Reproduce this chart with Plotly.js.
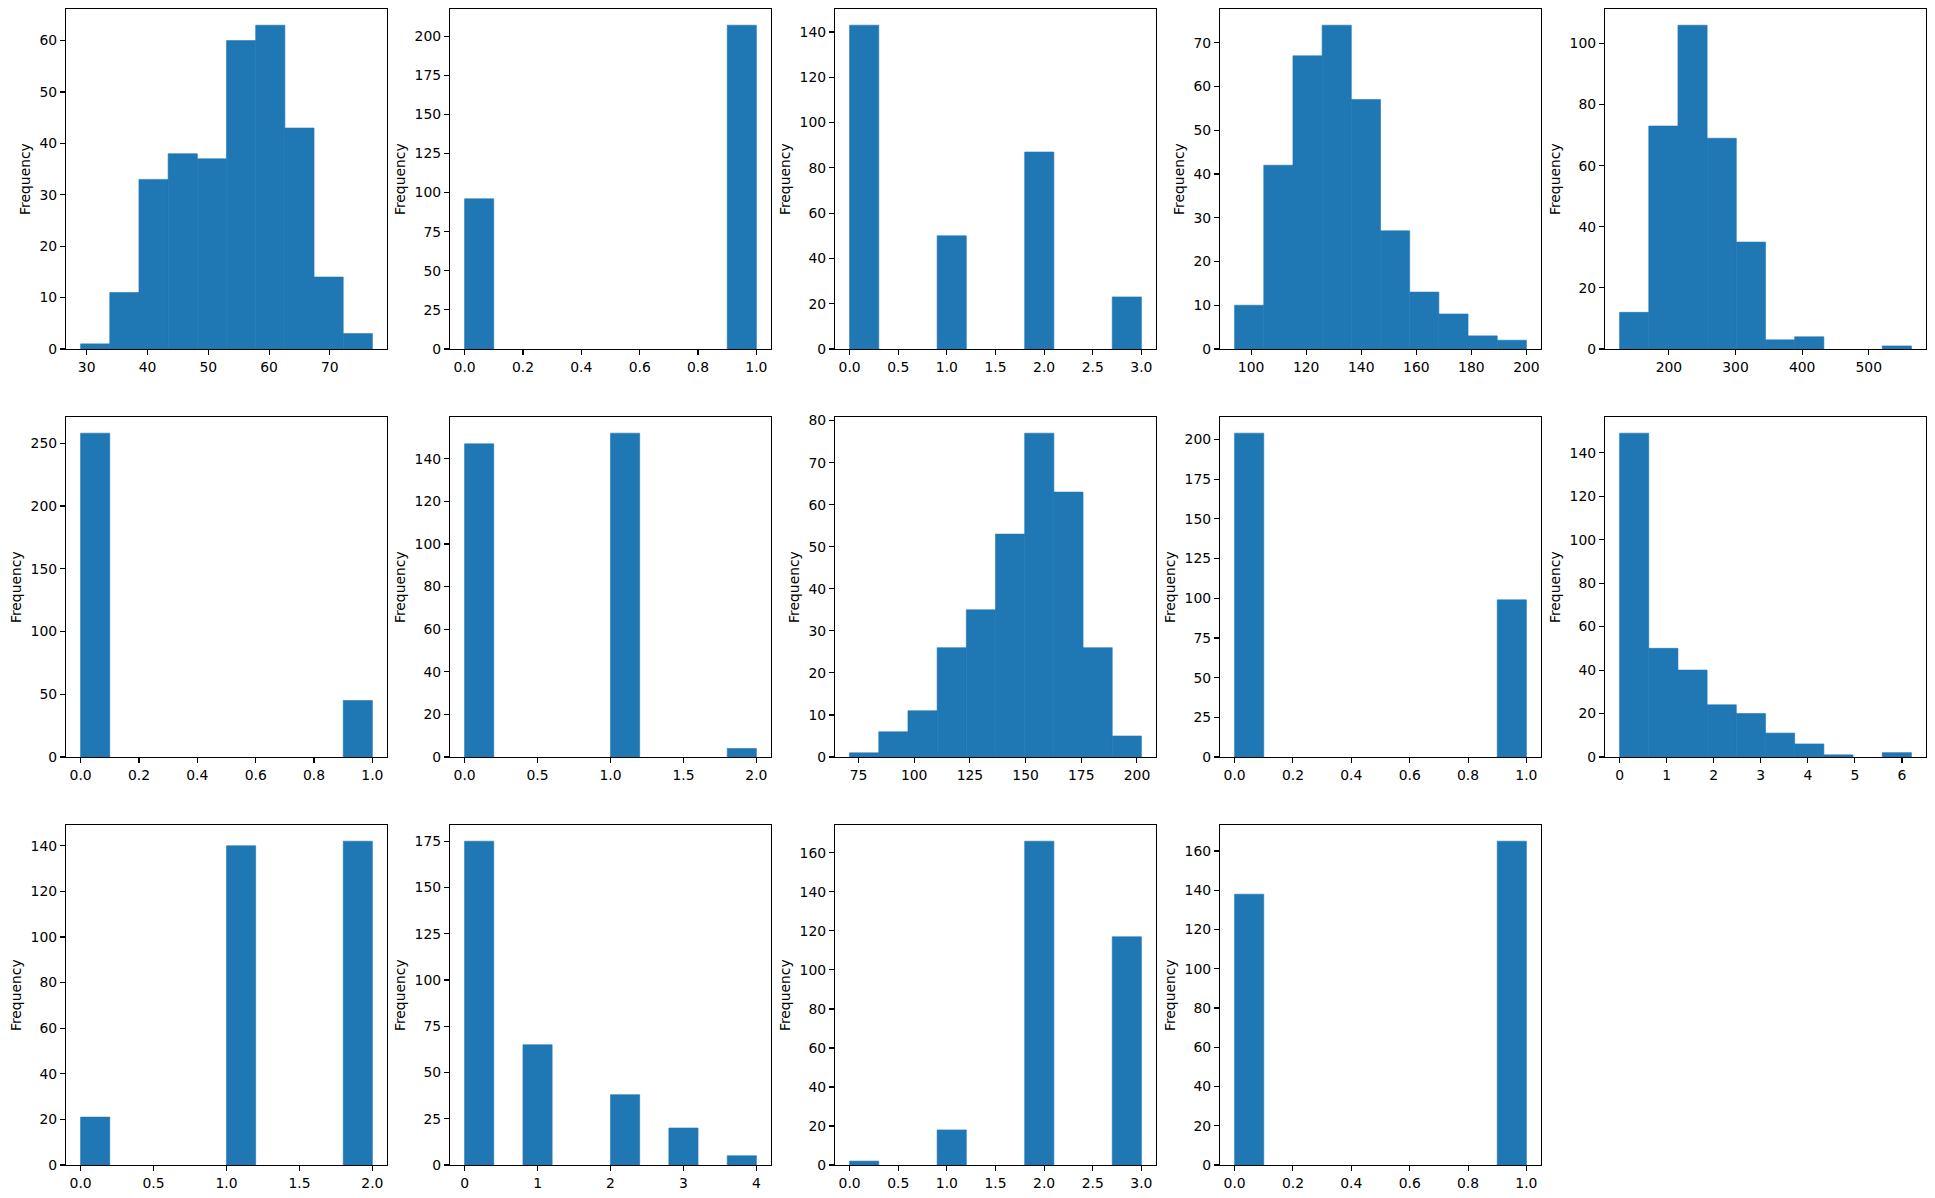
<!DOCTYPE html>
<html>
<head>
<meta charset="utf-8">
<script src="https://cdn.plot.ly/plotly-3.0.1.min.js"></script>
<style>body{margin:0;background:#fff;} #chart{width:1935px;height:1198px;}</style>
</head>
<body>
<div id="chart"></div>
<script>
// heart dataset, one histogram per column, 10 bins each
var columns = ['age', 'sex', 'cp', 'trestbps', 'chol', 'fbs', 'restecg',
               'thalach', 'exang', 'oldpeak', 'slope', 'ca', 'thal', 'target'];
var mins = [29, 0, 0, 94, 126, 0, 0, 71, 0, 0, 0, 0, 0, 0];
var maxs = [77, 1, 3, 200, 564, 1, 2, 202, 1, 6.2, 2, 4, 3, 1];

var age      = [1, 11, 33, 38, 37, 60, 63, 43, 14, 3];
var sex      = [96, 0, 0, 0, 0, 0, 0, 0, 0, 207];
var cp       = [143, 0, 0, 50, 0, 0, 87, 0, 0, 23];
var trestbps = [10, 42, 67, 74, 57, 27, 13, 8, 3, 2];
var chol     = [12, 73, 106, 69, 35, 3, 4, 0, 0, 1];
var fbs      = [258, 0, 0, 0, 0, 0, 0, 0, 0, 45];
var restecg  = [147, 0, 0, 0, 0, 152, 0, 0, 0, 4];
var thalach  = [1, 6, 11, 26, 35, 53, 77, 63, 26, 5];
var exang    = [204, 0, 0, 0, 0, 0, 0, 0, 0, 99];
var oldpeak  = [149, 50, 40, 24, 20, 11, 6, 1, 0, 2];
var slope    = [21, 0, 0, 0, 0, 140, 0, 0, 0, 142];
var ca       = [175, 0, 65, 0, 0, 38, 0, 20, 0, 5];
var thal     = [2, 0, 0, 18, 0, 0, 166, 0, 0, 117];
var target   = [138, 0, 0, 0, 0, 0, 0, 0, 0, 165];
var counts = [age, sex, cp, trestbps, chol, fbs, restecg, thalach, exang, oldpeak, slope, ca, thal, target];

// tick spacing like matplotlib picked it
var xTickStep = [10, 0.2, 0.5, 20, 100, 0.2, 0.5, 25, 0.2, 1, 0.5, 1, 0.5, 0.2];
var yTickStep = [10, 25, 20, 10, 20, 50, 20, 10, 25, 20, 20, 25, 20, 20];

var W = 1935, H = 1198;
var colLeft = [66, 450, 835, 1220, 1605];
var rowTop = [9, 417, 825];
var boxW = 321, boxH = 340;
var fontPx = 13.9;
var blue = '#1f77b4';

var data = [];
var layout = {
  width: W, height: H,
  margin: {l: 0, r: 0, t: 0, b: 0},
  paper_bgcolor: '#fff', plot_bgcolor: '#fff',
  showlegend: false,
  font: {family: 'DejaVu Sans', size: fontPx, color: '#000'},
  annotations: []
};

columns.forEach(function (name, i) {
  var n = counts[i].length;
  var step = (maxs[i] - mins[i]) / n;
  var centers = counts[i].map(function (c, k) { return mins[i] + step * (k + 0.5); });
  var sfx = i === 0 ? '' : String(i + 1);

  // same-colour outline closes the antialias seams between touching bins,
  // but empty bins get none so nothing shows along the baseline
  var outline = counts[i].map(function (c) { return c > 0 ? 0.6 : 0; });
  data.push({
    type: 'bar', x: centers, y: counts[i], width: step,
    xaxis: 'x' + sfx, yaxis: 'y' + sfx,
    marker: {color: blue, line: {width: outline, color: blue}},
    hoverinfo: 'skip'
  });

  var r = Math.floor(i / 5), c = i % 5;
  var x0 = colLeft[c], y0 = rowTop[r];
  var span = maxs[i] - mins[i];
  var ymax = Math.max.apply(null, counts[i]) * 1.05;
  var xfmt = xTickStep[i] < 1 ? '.1f' : '';

  var common = {
    showgrid: false, zeroline: false,
    showline: true, mirror: true, linecolor: '#000', linewidth: 1.1,
    ticks: 'outside', ticklen: 5, tickwidth: 1.1, tickcolor: '#000',
    tickfont: {family: 'DejaVu Sans', size: fontPx, color: '#000'},
    fixedrange: true
  };

  layout['xaxis' + sfx] = Object.assign({}, common, {
    domain: [x0 / W, (x0 + boxW) / W],
    anchor: 'y' + sfx,
    range: [mins[i] - 0.05 * span, maxs[i] + 0.05 * span],
    tick0: 0, dtick: xTickStep[i], tickformat: xfmt
  });
  layout['yaxis' + sfx] = Object.assign({}, common, {
    domain: [1 - (y0 + boxH) / H, 1 - y0 / H],
    anchor: 'x' + sfx,
    range: [0, ymax],
    tick0: 0, dtick: yTickStep[i]
  });

  // ylabel placed like matplotlib: after tick + pad + widest tick label
  var topTick = Math.floor(ymax / yTickStep[i]) * yTickStep[i];
  var labW = String(topTick).length * 0.636 * fontPx;
  var lx = x0 - 4.9 - 4.9 - labW - 5.6 - 8;
  layout.annotations.push({
    text: 'Frequency', textangle: -90, showarrow: false,
    xref: 'paper', yref: 'paper',
    x: lx / W, y: 1 - (y0 + boxH / 2) / H,
    xanchor: 'center', yanchor: 'middle',
    font: {family: 'DejaVu Sans', size: fontPx, color: '#000'}
  });
});

Plotly.newPlot('chart', data, layout, {displayModeBar: false, staticPlot: true});
</script>
</body>
</html>
